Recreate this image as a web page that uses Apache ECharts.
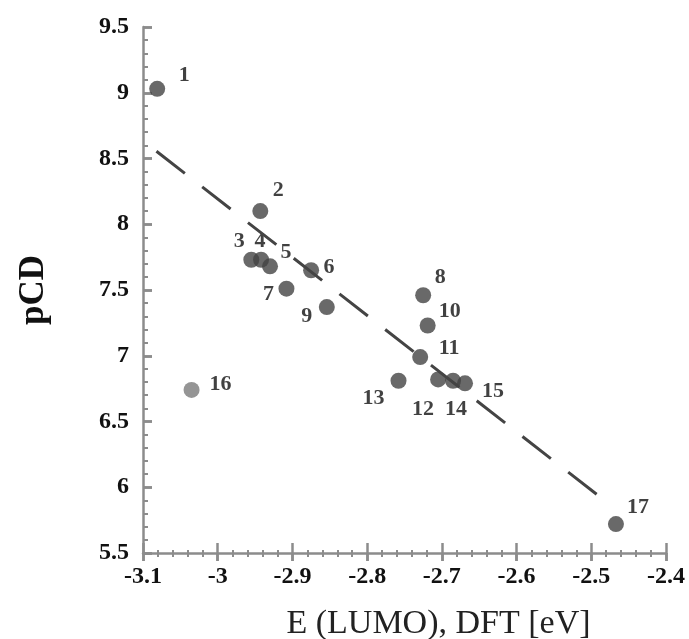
<!DOCTYPE html>
<html>
<head>
<meta charset="utf-8">
<script src="https://cdn.jsdelivr.net/npm/echarts@6/dist/echarts.min.js"></script>
<style>html,body{margin:0;padding:0;background:#fff;}#c{width:689px;height:639px;}</style>
</head>
<body>
<div id="c"></div>
<script>
// Data
const compoundIds = ['1','2','3','4','5','6','7','8','9','10','11','12','13','14','15','16','17'];
const lumoEnergy = [-3.081,-2.943,-2.955,-2.942,-2.930,-2.875,-2.908,-2.725,-2.854,-2.719,-2.729,-2.705,-2.758,-2.685,-2.669,-3.035,-2.467];
const pCD = [9.03,8.10,7.73,7.73,7.68,7.65,7.51,7.46,7.37,7.23,6.99,6.82,6.81,6.81,6.79,6.74,5.72];
const outlierIds = ['16'];
const fitLineX = [-3.082,-2.480];
const fitLineY = [8.555,5.890];
const xRange = {min:-3.1, max:-2.4, step:0.1};
const yRange = {min:5.5, max:9.5, step:0.5};

// label placement (styling only)
const labelOffsets = {
  '1':[27,-13],'2':[18,-21],'3':[-12,-18],'4':[-1,-18],'5':[16,-14],'6':[18,-3],
  '7':[-18,6],'8':[17,-18],'9':[-20,9],'10':[22,-14],'11':[29,-9],'12':[-15,30],
  '13':[-25,18],'14':[3,29],'15':[28,8],'16':[29,-6],'17':[22,-17]
};

const serif = "Liberation Serif";
const axisGray = '#8c8c8c';

const scatterData = compoundIds.map((id,i)=>({
  value:[lumoEnergy[i], pCD[i]],
  name:id,
  itemStyle:{color: outlierIds.includes(id) ? '#7a7a7a' : '#434343'},
  label:{offset: labelOffsets[id]}
}));

// helper axes: thin strips whose split lines act as tick marks
function stripAxis(r, gridIndex, major){
  return {
    type:'value', gridIndex:gridIndex, min:r.min, max:r.max, interval:r.step,
    axisLine:{show:false}, axisTick:{show:false}, axisLabel:{show:false},
    splitLine:{show:major, lineStyle:{color:axisGray, width:2.5}},
    minorTick:{show:false, splitNumber:5},
    minorSplitLine:{show:!major, lineStyle:{color:axisGray, width:2}}
  };
}
function hiddenAxis(gridIndex){
  return {type:'value', gridIndex:gridIndex, show:false, min:0, max:1};
}

const plotL = 143, plotR = 23, plotT = 27, plotB = 86, axisY = 639 - 86;

const chart = echarts.init(document.getElementById('c'));
chart.setOption({
  animation:false,
  grid:[
    {left:plotL, right:plotR, top:plotT, bottom:plotB, containLabel:false, outerBoundsMode:'none'},
    {left:plotL, right:plotR, top:axisY-10, height:18, containLabel:false, outerBoundsMode:'none'},
    {left:plotL, right:plotR, top:axisY-3, height:7, containLabel:false, outerBoundsMode:'none'},
    {left:plotL, width:9, top:plotT, bottom:plotB, containLabel:false, outerBoundsMode:'none'},
    {left:plotL, width:5, top:plotT, bottom:plotB, containLabel:false, outerBoundsMode:'none'}
  ],
  xAxis:[{
    type:'value', gridIndex:0, min:xRange.min, max:xRange.max, interval:xRange.step, position:'bottom',
    name:'E (LUMO), DFT [eV]', nameLocation:'middle', nameGap:54,
    nameTextStyle:{fontFamily:serif, fontSize:34, color:'#222', padding:[0,0,0,68]},
    axisLine:{show:true, lineStyle:{color:axisGray, width:2.5}},
    axisTick:{show:true, length:8, lineStyle:{color:axisGray, width:2.5}},
    minorTick:{show:true, splitNumber:5, length:4, lineStyle:{color:axisGray, width:2}},
    splitLine:{show:false},
    axisLabel:{fontFamily:serif, fontWeight:'bold', fontSize:24, color:'#111', margin:12}
  },
  stripAxis(xRange,1,true), stripAxis(xRange,2,false), hiddenAxis(3), hiddenAxis(4)],
  yAxis:[{
    type:'value', gridIndex:0, min:yRange.min, max:yRange.max, interval:yRange.step, position:'left',
    name:'pCD', nameLocation:'middle', nameGap:92,
    nameTextStyle:{fontFamily:serif, fontSize:35, fontWeight:'bold', color:'#111'},
    axisLine:{show:true, lineStyle:{color:axisGray, width:2.5}},
    axisTick:{show:true, inside:true, length:9, lineStyle:{color:axisGray, width:2.5}},
    minorTick:{show:true, splitNumber:5, length:5, lineStyle:{color:axisGray, width:2}},
    splitLine:{show:false},
    axisLabel:{fontFamily:serif, fontWeight:'bold', fontSize:24, color:'#111', margin:14}
  },
  hiddenAxis(1), hiddenAxis(2), stripAxis(yRange,3,true), stripAxis(yRange,4,false)],
  series:[{
    type:'line', xAxisIndex:0, yAxisIndex:0,
    data: fitLineX.map((x,i)=>[x, fitLineY[i]]),
    symbol:'none', silent:true,
    lineStyle:{color:'#444', width:3, type:[36,22]}
  },{
    type:'scatter', xAxisIndex:0, yAxisIndex:0,
    data: scatterData,
    symbolSize:16,
    label:{show:true, position:'inside', formatter:'{b}', fontFamily:serif, fontWeight:'bold', fontSize:22, color:'#111', align:'center', verticalAlign:'middle'}
  }]
});
</script>
</body>
</html>
